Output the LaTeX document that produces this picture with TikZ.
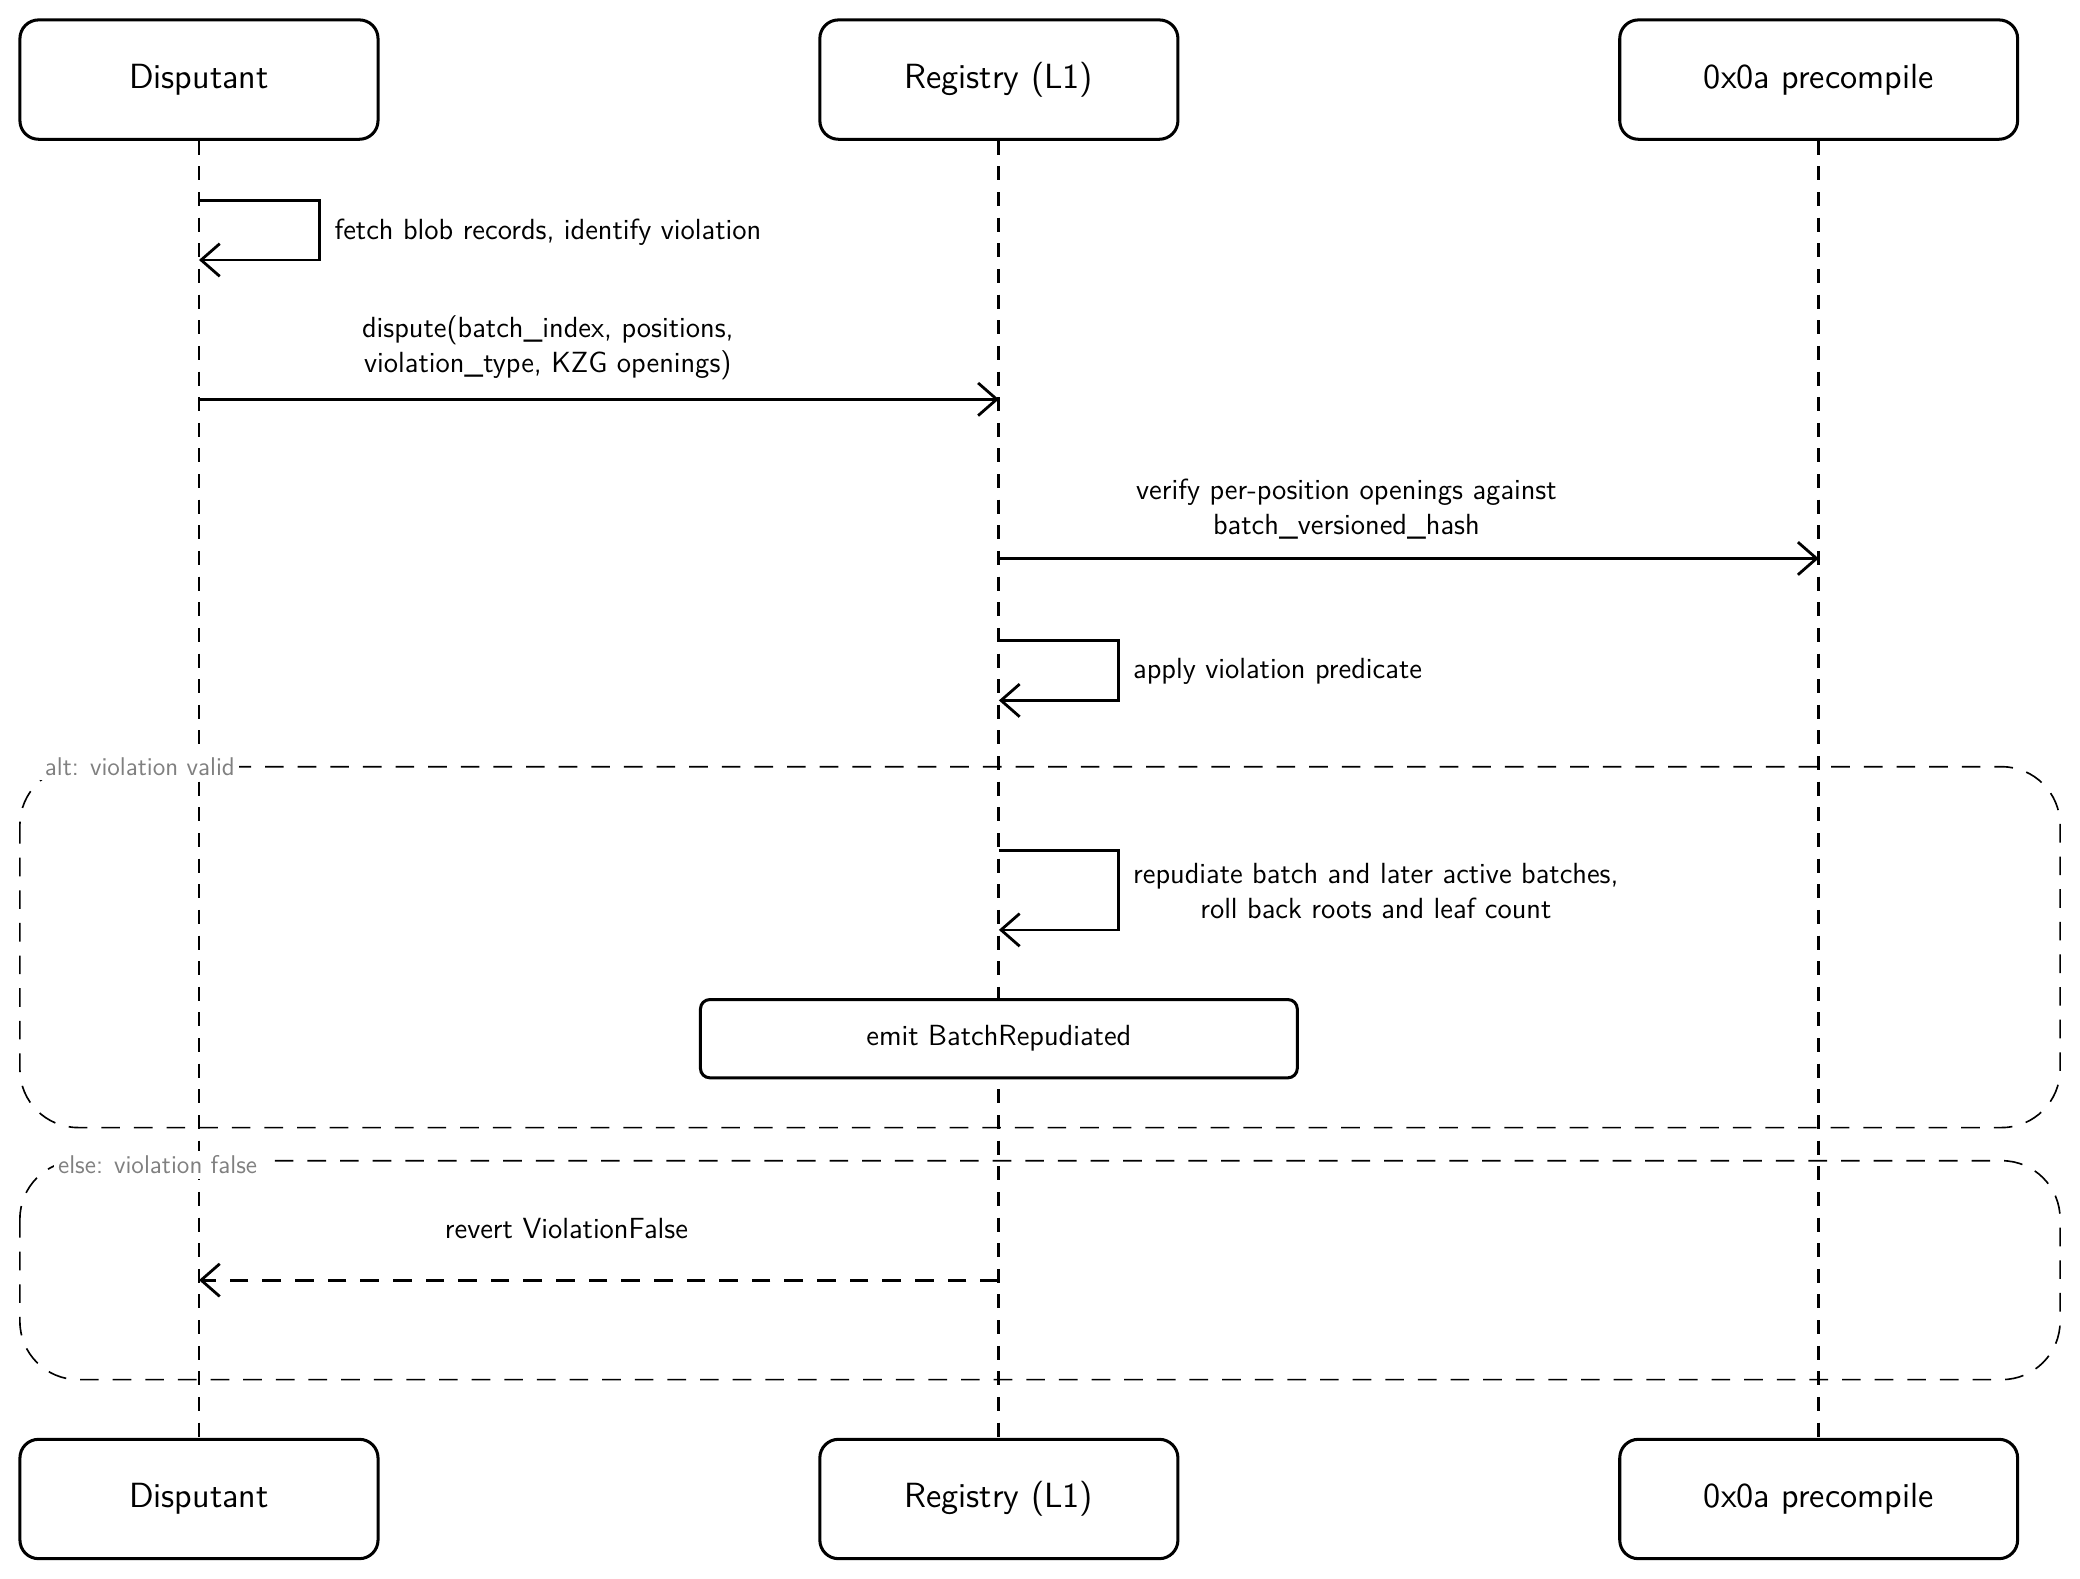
\documentclass[tikz,border=0pt]{standalone}
\usetikzlibrary{arrows.meta}
\tikzset{
  actor/.style={draw, line width=1.3pt, rounded corners=8pt, minimum width=5.4cm, minimum height=1.8cm, font=\sffamily\fontsize{15}{18}\selectfont},
  life/.style={line width=1.2pt, dash pattern=on 6pt off 5pt},
  msg/.style={line width=1.2pt, -{Straight Barb[length=8pt,width=14pt]}},
  lbl/.style={font=\sffamily\fontsize{12.5}{15}\selectfont, align=center},
  frame/.style={draw, line width=0.7pt, dash pattern=on 8pt off 6pt, rounded corners=25pt},
  flbl/.style={font=\sffamily\fontsize{11}{13}\selectfont, text=gray, fill=white, inner sep=2pt}
}
\begin{document}
\begin{tikzpicture}[x=0.02cm, y=-0.02cm]
\useasboundingbox (0,0) rectangle (1568,1190);
% frames
\draw[frame] (15,578) rectangle (1553,850);
\draw[frame] (15,875) rectangle (1553,1040);
% lifelines
\node[actor] (d1) at (150,60) {Disputant};
\node[actor] (r1) at (753,60) {Registry (L1)};
\node[actor, minimum width=6cm] (p1) at (1371,60) {0x0a precompile};
\node[actor] (d2) at (150,1130) {Disputant};
\node[actor] (r2) at (753,1130) {Registry (L1)};
\node[actor, minimum width=6cm] (p2) at (1371,1130) {0x0a precompile};
\draw[life] (d1) -- (d2);
\draw[life] (r1) -- (r2);
\draw[life] (p1) -- (p2);
\node[flbl, anchor=west] (alt) at (30,578) {alt: violation valid};
\node[flbl, anchor=west] (els) at (40,878) {else: violation false};
% messages
\coordinate (a1) at (150,151); \coordinate (a2) at (150,196);
\draw[msg] (a1) -- ++(91,0) |- (a2);
\node[lbl, anchor=west] (t1) at (246,175) {fetch blob records, identify violation};
\coordinate (b1) at (150,301); \coordinate (b2) at (753,301);
\draw[msg] (b1) -- (b2);
\node[lbl] (t2) at (413,262) {dispute(batch\_index, positions,\\violation\_type, KZG openings)};
\coordinate (c1) at (753,421); \coordinate (c2) at (1371,421);
\draw[msg] (c1) -- (c2);
\node[lbl] (t3) at (1015,384) {verify per-position openings against\\batch\_versioned\_hash};
\coordinate (e1) at (753,483); \coordinate (e2) at (753,528);
\draw[msg] (e1) -- ++(90,0) |- (e2);
\node[lbl, anchor=west] (t4) at (848,506) {apply violation predicate};
\coordinate (f1) at (753,641); \coordinate (f2) at (753,701);
\draw[msg] (f1) -- ++(90,0) |- (f2);
\node[lbl, anchor=west] (t5) at (848,672) {repudiate batch and later active batches,\\roll back roots and leaf count};
\node[draw, line width=1.3pt, fill=white, rounded corners=4pt, minimum width=9cm, minimum height=1.18cm, lbl] (emit) at (753,783) {emit BatchRepudiated};
\coordinate (g1) at (753,965); \coordinate (g2) at (150,965);
\draw[msg, dash pattern=on 8pt off 6pt] (g1) -- (g2);
\node[lbl] (t6) at (427,926) {revert ViolationFalse};
\end{tikzpicture}
\end{document}
